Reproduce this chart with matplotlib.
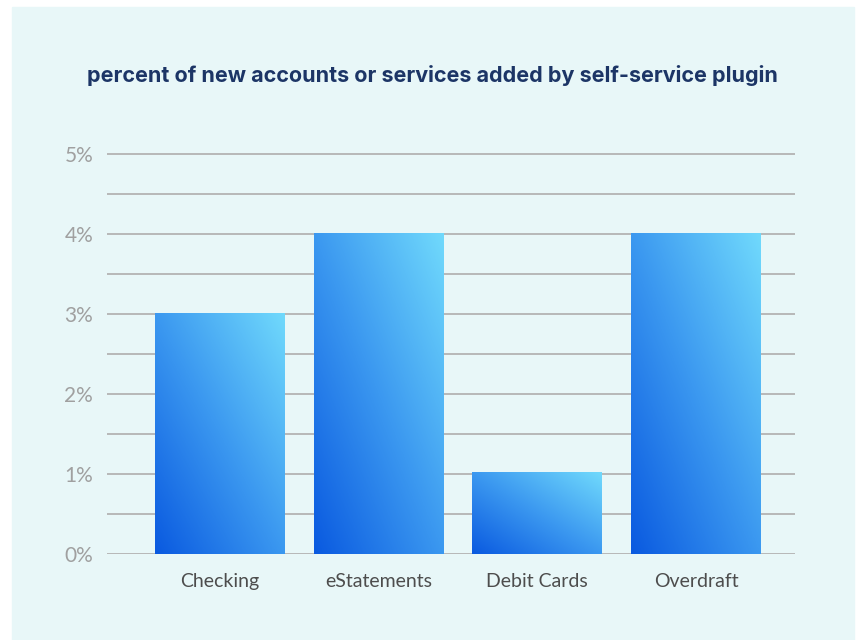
import numpy as np
import matplotlib.pyplot as plt
from matplotlib.colors import LinearSegmentedColormap
from matplotlib.patches import Rectangle

# Datos
categorias = ["Checking", "eStatements", "Debit Cards", "Overdraft"]
valores = [3.0, 4.0, 1.02, 4.0]
ticks_y = [0, 1, 2, 3, 4, 5]
etiquetas_y = ["0%", "1%", "2%", "3%", "4%", "5%"]

plt.rcParams["font.family"] = ["Lato", "DejaVu Sans"]

fondo = "#e8f7f8"
cmap = LinearSegmentedColormap.from_list("azul", ["#0a5ae0", "#3b98f0", "#70d9fc"])

fig = plt.figure(figsize=(8.57, 6.4), dpi=100)
fig.patch.set_facecolor("white")
fig.patches.append(Rectangle((12 / 857, 0), 842 / 857, 633 / 640,
                             transform=fig.transFigure, color=fondo, zorder=-10))

ax = fig.add_axes([107 / 857, (640 - 554) / 640, 688 / 857, 401 / 640])
ax.set_facecolor("none")

x = np.arange(len(categorias))
ancho = 0.818
barras = ax.bar(x, valores, width=ancho, color="none", zorder=2)

# degradado diagonal en cada barra
u, v = np.meshgrid(np.linspace(0, 1, 100), np.linspace(0, 1, 100))
grad = (u + v) / 2
for b in barras:
    x0, y0 = b.get_x(), b.get_y()
    ax.imshow(grad, cmap=cmap, origin="lower", aspect="auto", zorder=2,
              extent=[x0, x0 + b.get_width(), y0, y0 + b.get_height()])

ax.set_xlim(-0.711, 3.623)
ax.set_ylim(0, 5.01)

for yy in np.arange(0, 5.01, 0.5):
    ax.axhline(yy, color="#b3b3b3", linewidth=1.3, zorder=1)

ax.set_yticks(ticks_y)
ax.set_yticklabels(etiquetas_y, fontsize=15, color="#a0a0a0")
ax.set_xticks(x)
ax.set_xticklabels(categorias, fontsize=14, color="#4d4d4d")
ax.tick_params(length=0)
ax.tick_params(axis="y", pad=10)
ax.tick_params(axis="x", pad=14)
for s in ax.spines.values():
    s.set_visible(False)

fig.text(432 / 857, 1 - 75 / 640, "percent of new accounts or services added by self-service plugin",
         ha="center", va="center", fontsize=15.5, fontweight="bold", color="#1c3566",
         family=["Inter", "DejaVu Sans"])

fig.savefig("out.png", dpi=100, facecolor=fig.get_facecolor())
